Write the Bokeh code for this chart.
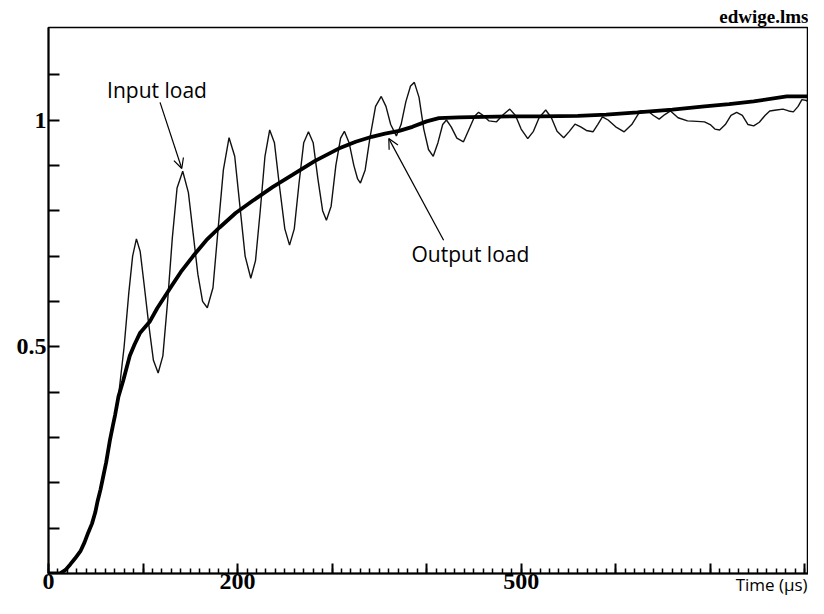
from bokeh.plotting import figure
from bokeh.models import Range1d, FixedTicker, Label, Arrow, OpenHead, LinearAxis
from bokeh.embed import file_html
from bokeh.resources import INLINE

# ---- data ----
output_time = [0, 12, 18, 23, 28, 34, 38, 42, 46, 49.5, 52, 55, 58, 61, 65, 68, 70.5, 74,
               79, 86, 91, 97, 107, 115, 128, 140, 153, 167, 181, 198, 216, 237, 258, 282,
               307, 325, 342, 356, 371, 385, 400, 413, 434, 460, 489, 520, 560, 590, 623,
               660, 694, 720, 746, 781, 805, 808]
output_load = [0, 0, 0.008, 0.02, 0.033, 0.05, 0.068, 0.09, 0.11, 0.135, 0.16, 0.185, 0.215,
               0.245, 0.294, 0.325, 0.35, 0.39, 0.425, 0.48, 0.505, 0.531, 0.555, 0.585, 0.627,
               0.665, 0.70, 0.735, 0.763, 0.795, 0.822, 0.852, 0.879, 0.91, 0.937, 0.952, 0.963,
               0.97, 0.976, 0.985, 0.997, 1.004, 1.006, 1.007, 1.008, 1.008, 1.009, 1.012, 1.017,
               1.023, 1.03, 1.035, 1.041, 1.052, 1.052, 1.038]

input_time = [0, 12, 18, 23, 28, 34, 38, 42, 46, 49.5, 52, 55, 58, 61, 65, 68, 70.5, 74,
              80, 85, 89, 93, 97, 101, 106, 111, 116, 121, 126, 131, 136, 142, 148, 153, 158,
              163, 168, 174, 179, 185, 191, 197, 202, 208, 214, 219, 224, 229, 234, 239, 244,
              250, 255, 260, 265, 270, 275, 280, 285, 290, 294, 299, 304, 309, 313, 318, 323,
              327, 330, 335, 340, 346, 352, 357, 362, 368, 373, 378, 383, 387, 392, 397, 402,
              407, 412, 417, 421, 426, 432, 439, 445, 451, 455, 460, 466, 474, 480, 488, 494,
              500, 507, 513, 519, 526, 532, 538, 545, 551, 557, 563, 569, 576, 581, 586, 592,
              600, 609, 617, 626, 634, 640, 646, 652, 658, 666, 676, 686, 694, 700, 705, 710,
              716, 722, 728, 734, 740, 746, 752, 758, 763, 770, 777, 783, 788, 793, 797, 802,
              805, 808]
input_load = [0, 0, 0.008, 0.02, 0.033, 0.05, 0.068, 0.09, 0.11, 0.135, 0.16, 0.185, 0.215,
              0.245, 0.294, 0.325, 0.35, 0.39, 0.50, 0.62, 0.70, 0.738, 0.71, 0.64, 0.55,
              0.47, 0.442, 0.48, 0.60, 0.74, 0.85, 0.887, 0.84, 0.75, 0.66, 0.60, 0.586, 0.63,
              0.75, 0.89, 0.961, 0.92, 0.82, 0.70, 0.651, 0.69, 0.80, 0.92, 0.978, 0.95, 0.86,
              0.76, 0.724, 0.76, 0.86, 0.95, 0.974, 0.95, 0.87, 0.80, 0.779, 0.81, 0.90, 0.96,
              0.975, 0.95, 0.90, 0.87, 0.861, 0.89, 0.96, 1.03, 1.052, 1.03, 0.99, 0.965, 0.99,
              1.04, 1.075, 1.083, 1.05, 0.98, 0.935, 0.92, 0.95, 0.99, 1.0, 0.985, 0.96, 0.952,
              0.98, 1.009, 1.017, 1.01, 0.998, 0.996, 1.01, 1.024, 1.01, 0.98, 0.959, 0.975,
              1.005, 1.022, 1.005, 0.975, 0.961, 0.975, 0.991, 0.985, 0.977, 0.974, 0.99, 1.007,
              1.0, 0.985, 0.974, 0.99, 1.02, 1.02, 1.01, 1.002, 1.012, 1.02, 1.005, 0.998,
              0.997, 0.996, 0.99, 0.98, 0.978, 0.99, 1.01, 1.017, 1.01, 0.99, 0.987, 0.995,
              1.01, 1.02, 1.022, 1.024, 1.02, 1.018, 1.03, 1.045, 1.043, 1.035, 1.039]

x_major_ticks = [0, 100, 200, 300, 400, 500, 600, 700, 800]
x_minor_ticks = list(range(0, 810, 10))
y_ticks = [0.1, 0.2, 0.3, 0.4, 0.5, 0.6, 0.7, 0.8, 0.9, 1.0, 1.1]

x_tick_labels = {0: "0", 200: "200", 500: "500"}
y_tick_labels = {0.5: "0.5", 1.0: "1"}
x_axis_title = "Time (µs)"
x_axis_title_at = 765
file_name = "edwige.lms"

W, H = 808, 598
X_END = 804
Y_END = 1.204

serif = "Liberation Serif"
sans = "Open Sans"

# ---- figure ----
p = figure(width=W, height=H, output_backend="svg", toolbar_location=None,
           x_range=Range1d(0, X_END), y_range=Range1d(0, Y_END),
           min_border_left=48, min_border_right=0, min_border_top=27, min_border_bottom=23)
p.grid.visible = False
p.background_fill_color = "white"
p.border_fill_color = "white"
p.outline_line_color = "black"
p.outline_line_width = 1.5

# title (file name) top right
p.title.text = file_name
p.title.align = "right"
p.title.text_font = serif
p.title.text_font_style = "bold"
p.title.text_font_size = "19px"
p.title.text_color = "black"
p.title.standoff = 2
p.title.offset = 0

for ax in (p.xaxis[0], p.yaxis[0]):
    ax.axis_line_width = 2
    ax.axis_line_color = "black"
    ax.major_tick_out = 0
    ax.minor_tick_out = 0
    ax.major_tick_line_color = "black"
    ax.minor_tick_line_color = "black"
    ax.major_label_text_font = serif
    ax.major_label_text_font_style = "bold"
    ax.major_label_text_color = "black"

xa = p.xaxis[0]
xa.ticker = FixedTicker(ticks=x_major_ticks, minor_ticks=x_minor_ticks)
xa.major_tick_in = 10
xa.major_tick_line_width = 2
xa.minor_tick_in = 5
xa.minor_tick_line_width = 1.5
xa.major_label_overrides = {t: x_tick_labels.get(t, "") for t in x_major_ticks}
xa.major_label_text_font_size = "24px"
xa.major_label_standoff = 0

ya = p.yaxis[0]
ya.ticker = FixedTicker(ticks=y_ticks, minor_ticks=[])
ya.major_tick_in = 11
ya.major_tick_line_width = 2
ya.major_label_overrides = {t: y_tick_labels.get(t, "") for t in y_ticks}
ya.major_label_text_font_size = "24px"
ya.major_label_standoff = 2

# second bottom axis only carrying the "Time (µs)" text, pulled up beside the numbers
time_axis = LinearAxis(ticker=FixedTicker(ticks=[x_axis_title_at], minor_ticks=[]),
                       major_label_overrides={x_axis_title_at: x_axis_title},
                       axis_line_color=None, major_tick_line_color=None,
                       minor_tick_line_color=None, major_tick_in=0, major_tick_out=0,
                       minor_tick_in=0, minor_tick_out=0,
                       major_label_text_font=sans, major_label_text_font_size="17px",
                       major_label_text_color="black")
try:
    time_axis.major_label_standoff = -19
except Exception:
    time_axis.major_label_standoff = 0
p.add_layout(time_axis, "below")

p.line(input_time, input_load, line_color="#111111", line_width=1.4)
p.line(output_time, output_load, line_color="black", line_width=3.8)

p.add_layout(Label(x=62, y=1.067, text="Input load", text_align="left",
                   text_baseline="middle", text_font=sans, text_font_size="21px",
                   text_color="black"))
p.add_layout(Label(x=384, y=0.704, text="Output load", text_align="left",
                   text_baseline="middle", text_font=sans, text_font_size="21px",
                   text_color="black"))

p.add_layout(Arrow(x_start=118, y_start=1.039, x_end=141, y_end=0.893,
                   line_color="black", line_width=1.2,
                   end=OpenHead(size=10, line_color="black", line_width=1.2)))
p.add_layout(Arrow(x_start=418, y_start=0.735, x_end=360, y_end=0.959,
                   line_color="black", line_width=1.2,
                   end=OpenHead(size=10, line_color="black", line_width=1.2)))

open("out.html", "w").write(file_html(p, INLINE))
